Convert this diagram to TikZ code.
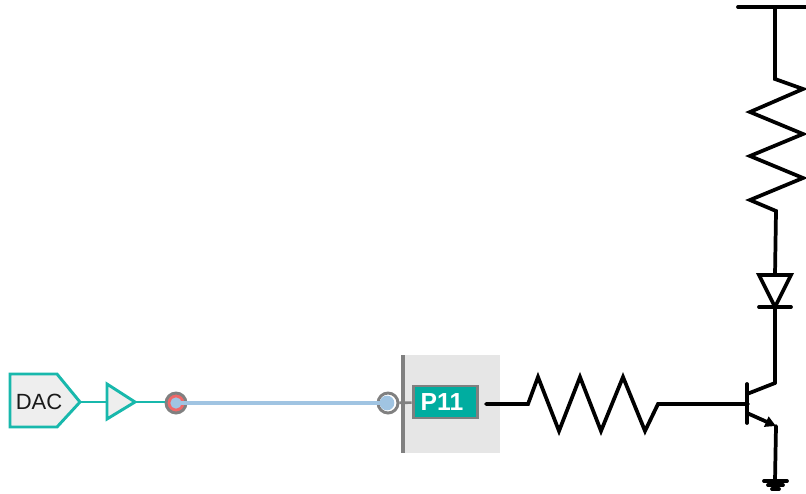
\documentclass[tikz,border=0pt]{standalone}
\usepackage{fontspec}
\setmainfont{Liberation Sans}
\usetikzlibrary{arrows.meta,positioning}
\definecolor{dacteal}{RGB}{24,184,172}
\definecolor{pinteal}{RGB}{0,173,160}
\definecolor{pingray}{RGB}{128,128,128}
\definecolor{padgray}{RGB}{230,230,230}
\definecolor{wireblue}{RGB}{160,196,226}
\definecolor{pinred}{RGB}{240,104,104}
\definecolor{lightfill}{RGB}{238,238,238}
\tikzstyle{tealwire} = [line width=2.1pt,color=dacteal]
\tikzstyle{tealshape} = [line width=2.2pt,draw=dacteal,fill=lightfill,line join=miter]
\tikzstyle{blackwire} = [line width=2.8pt,color=black,line cap=round,line join=miter]

\begin{document}
\begin{tikzpicture}[x=0.75pt,y=-0.75pt]
    \useasboundingbox (0,0) rectangle (806,493);

    % Pin pad
    \fill[padgray] (403,355) rectangle (500,453);

    % DAC
    \draw[tealshape] (10,374) -- (57,374) -- (80,402) -- (57,427) -- (10,427) -- cycle;
    \node[font=\fontsize{16.5}{19}\selectfont, color=black!90] (dac) at (39,402) {DAC};
    \coordinate (dacout) at (80,402);

    % Buffer
    \draw[tealshape] (107,384) -- (135,402) -- (107,419) -- cycle;
    \coordinate (bufin) at (107,402);
    \coordinate (bufout) at (135,402);
    \draw[tealwire] (dacout) -- (bufin);

    % Pin circles
    \node[circle, draw=pingray, fill=pinred, line width=2.2pt, minimum size=15pt, inner sep=0pt] (pinleft) at (176,403) {};
    \node[circle, draw=pingray, fill=white, line width=2.2pt, minimum size=15pt, inner sep=0pt] (pinright) at (388,403) {};
    \draw[tealwire] (bufout) -- (pinleft.west |- bufout);
    \node[circle, fill=wireblue, minimum size=8.5pt, inner sep=0pt] (dotleft) at (176,403) {};
    \node[circle, fill=wireblue, minimum size=11pt, inner sep=0pt] (dotright) at (387,403) {};
    \draw[line width=3.3pt, color=wireblue] (dotleft.center) -- (dotright.center);

    % P11
    \draw[line width=3.6pt, color=pingray] (403,355) -- (403,453);
    \node[rectangle, draw=pingray, fill=pinteal, line width=2.2pt, minimum width=48.5pt, minimum height=24pt, inner sep=0pt] (pin) at (445.5,402) {};
    \node[font=\fontsize{18.5}{22}\selectfont\bfseries, text=white] (pinlabel) at (442,402) {P11};
    \draw[line width=2pt, color=pingray] (pinright) -- (pin);

    % Base resistor
    \coordinate (rbin) at (486,404);
    \coordinate (base) at (748,404);
    \draw[blackwire] (rbin) -- (528,404) -- (538,377) -- (559,431) -- (580,377) -- (601,431) -- (623,377) -- (645,431) -- (658,404) -- (base);

    % Transistor
    \draw[blackwire] (747,384) -- (747,423);
    \coordinate (collector) at (775,383);
    \coordinate (emitter) at (776,426);
    \draw[blackwire] (747,394) -- (collector);
    \draw[blackwire, -{Triangle[length=8pt,width=8pt]}] (747,413) -- (emitter);

    % Supply, load resistor and diode
    \coordinate (rail) at (775,7);
    \coordinate (diodein) at (775,275);
    \coordinate (diodeout) at (775,307);
    \draw[blackwire] (738,7) -- (806,7);
    \draw[blackwire] (rail) -- (775,79) -- (803,89) -- (750,112) -- (803,134) -- (750,156) -- (803,178) -- (750,200) -- (776,211) -- (diodein);
    \draw[blackwire] (759,275) -- (791,275) -- (diodeout) -- cycle;
    \draw[blackwire] (759,307) -- (791,307);
    \draw[blackwire] (diodeout) -- (collector);

    % Ground
    \coordinate (gnd) at (775,481);
    \draw[blackwire] (emitter) -- (gnd);
    \draw[blackwire] (764,481) -- (787,481);
    \draw[blackwire] (768,485) -- (783,485);
    \draw[blackwire] (772,489) -- (779,489);
\end{tikzpicture}
\end{document}
